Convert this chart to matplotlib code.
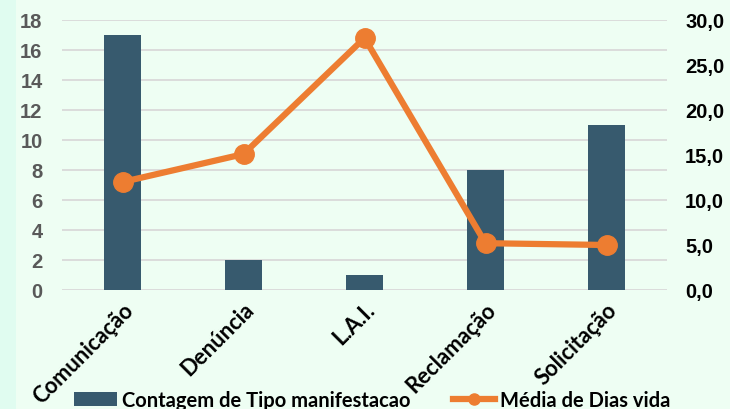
import matplotlib
matplotlib.use("Agg")
import matplotlib.pyplot as plt
from matplotlib.patches import Rectangle
from matplotlib.lines import Line2D

categories = ["Comunicação", "Denúncia", "L.A.I.", "Reclamação", "Solicitação"]
contagem = [17, 2, 1, 8, 11]
media_dias = [12.0, 15.1, 28.0, 5.2, 5.0]
left_ticks = [0, 2, 4, 6, 8, 10, 12, 14, 16, 18]
right_ticks = [0, 5, 10, 15, 20, 25, 30]
right_labels = ["0,0", "5,0", "10,0", "15,0", "20,0", "25,0", "30,0"]

bg = "#EEFEF3"
bar_color = "#375A6E"
line_color = "#ED7D31"

fig = plt.figure(figsize=(7.3, 4.1), dpi=100, facecolor=bg)
fig.patches.append(Rectangle((0, 0), 16 / 730, 1, transform=fig.transFigure,
                             facecolor="#E0FCF0", edgecolor="none", zorder=0))

ax = fig.add_axes([62 / 730, 1 - 291 / 410, (667 - 62) / 730, (291 - 21) / 410])
ax.set_facecolor(bg)
x = list(range(len(categories)))
ax.bar(x, contagem, width=0.31, color=bar_color, zorder=2)
ax.set_xlim(-0.5, len(categories) - 0.5)
ax.set_ylim(0, 18)
ax.set_yticks(left_ticks)
ax.set_yticklabels([str(t) for t in left_ticks], fontfamily="Liberation Sans",
                   fontweight="bold", fontsize=14.5, color="#595959")
ax.tick_params(axis="y", length=0, pad=14)
ax.grid(axis="y", color="#D9D9D9", linewidth=1.3, zorder=0)
ax.set_axisbelow(True)
for s in ax.spines.values():
    s.set_visible(False)
ax.set_xticks(x)
ax.set_xticklabels(categories, rotation=45, ha="right", rotation_mode="anchor",
                   fontfamily="Lato", fontweight="bold", fontsize=15.8, color="black")
ax.tick_params(axis="x", length=0, pad=6)

ax2 = ax.twinx()
ax2.plot(x, media_dias, color=line_color, linewidth=4.5, marker="o",
         markersize=14, zorder=3, solid_capstyle="round")
ax2.set_ylim(0, 30)
ax2.set_yticks(right_ticks)
ax2.set_yticklabels(right_labels, fontfamily="Liberation Sans", fontweight="bold",
                    fontsize=14.5, color="black")
ax2.tick_params(axis="y", length=0, pad=13)
for s in ax2.spines.values():
    s.set_visible(False)

handles = [Rectangle((0, 0), 1, 1, facecolor=bar_color),
           Line2D([0], [0], color=line_color, linewidth=4.5, marker="o", markersize=8)]
fig.legend(handles, ["Contagem de Tipo manifestacao", "Média de Dias vida"],
           loc="center", bbox_to_anchor=(0.510, 0.021), ncol=2, frameon=False,
           prop={"family": "Lato", "weight": "bold", "size": 14.5},
           handlelength=2.1, handletextpad=0.25, columnspacing=2.1,
           borderpad=0, borderaxespad=0)

fig.savefig("out.png", dpi=100, facecolor=bg)
